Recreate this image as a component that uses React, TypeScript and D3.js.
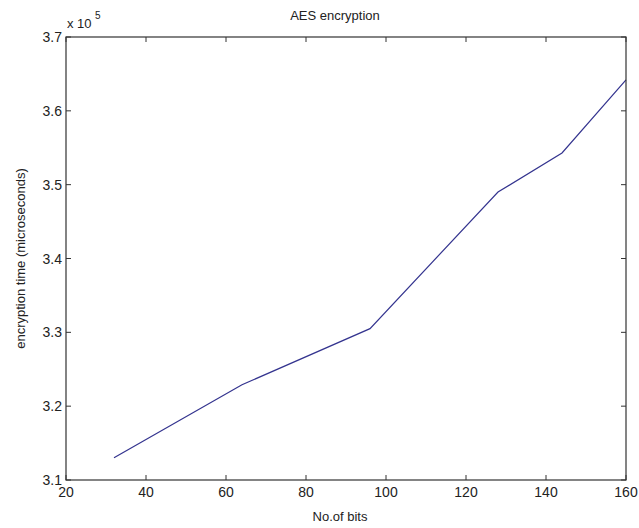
import React from 'react';
import {scaleLinear, line, range} from 'd3';

// valeurs (temps en microsecondes)
const bits = [32, 64, 96, 128, 144, 160];
const timeUs = [313000, 322900, 330500, 349000, 354300, 364200];
const xTicks = [20, 40, 60, 80, 100, 120, 140, 160];
const yTicks = range(3.1, 3.71, 0.1).map(v => +v.toFixed(1));

const W = 639;
const H = 528;
const m = {left: 66, right: 13, top: 37, bottom: 48};
const font = '"Liberation Sans", Arial, sans-serif';
const axisColor = '#333';

export default function App() {
  const x = scaleLinear().domain([20, 160]).range([m.left, W - m.right]);
  const y = scaleLinear().domain([3.1, 3.7]).range([H - m.bottom, m.top]);
  const pts = bits.map((b, i) => [b, timeUs[i] / 1e5] as [number, number]);
  const path = line<[number, number]>()
    .x(d => x(d[0]))
    .y(d => y(d[1]))(pts);

  const x0 = x(20), x1 = x(160), y0 = y(3.1), y1 = y(3.7);
  const tick = 5;

  return (
    <svg width={W} height={H} style={{position: 'absolute', left: 0, top: 0, background: '#fff'}}
      fontFamily={font}>
      <rect x={0} y={0} width={W} height={H} fill="#fff" />
      <path d={path || ''} fill="none" stroke="#34348f" strokeWidth={1.2} />
      <rect x={x0} y={y1} width={x1 - x0} height={y0 - y1} fill="none" stroke={axisColor} strokeWidth={1.2} />
      {xTicks.map(t => (
        <g key={'x' + t}>
          <line x1={x(t)} x2={x(t)} y1={y0} y2={y0 - tick} stroke={axisColor} />
          <line x1={x(t)} x2={x(t)} y1={y1} y2={y1 + tick} stroke={axisColor} />
          <text x={x(t)} y={y0 + 17} textAnchor="middle" fontSize={14} fill="#222">{t}</text>
        </g>
      ))}
      {yTicks.map(t => (
        <g key={'y' + t}>
          <line x1={x0} x2={x0 + tick} y1={y(t)} y2={y(t)} stroke={axisColor} />
          <line x1={x1} x2={x1 - tick} y1={y(t)} y2={y(t)} stroke={axisColor} />
          <text x={x0 - 4} y={y(t) + 5} textAnchor="end" fontSize={14} fill="#222">{t.toFixed(1)}</text>
        </g>
      ))}
      <text x={67} y={28} fontSize={13} fill="#222">x 10</text>
      <text x={95} y={19} fontSize={10} fill="#222">5</text>
      <text x={335} y={20} textAnchor="middle" fontSize={13} fill="#222">AES encryption</text>
      <text x={340} y={521} textAnchor="middle" fontSize={13} fill="#222">No.of bits</text>
      <text transform={`translate(25,${(y0 + y1) / 2}) rotate(-90)`} textAnchor="middle" fontSize={13} fill="#222">
        encryption time (microseconds)
      </text>
    </svg>
  );
}
